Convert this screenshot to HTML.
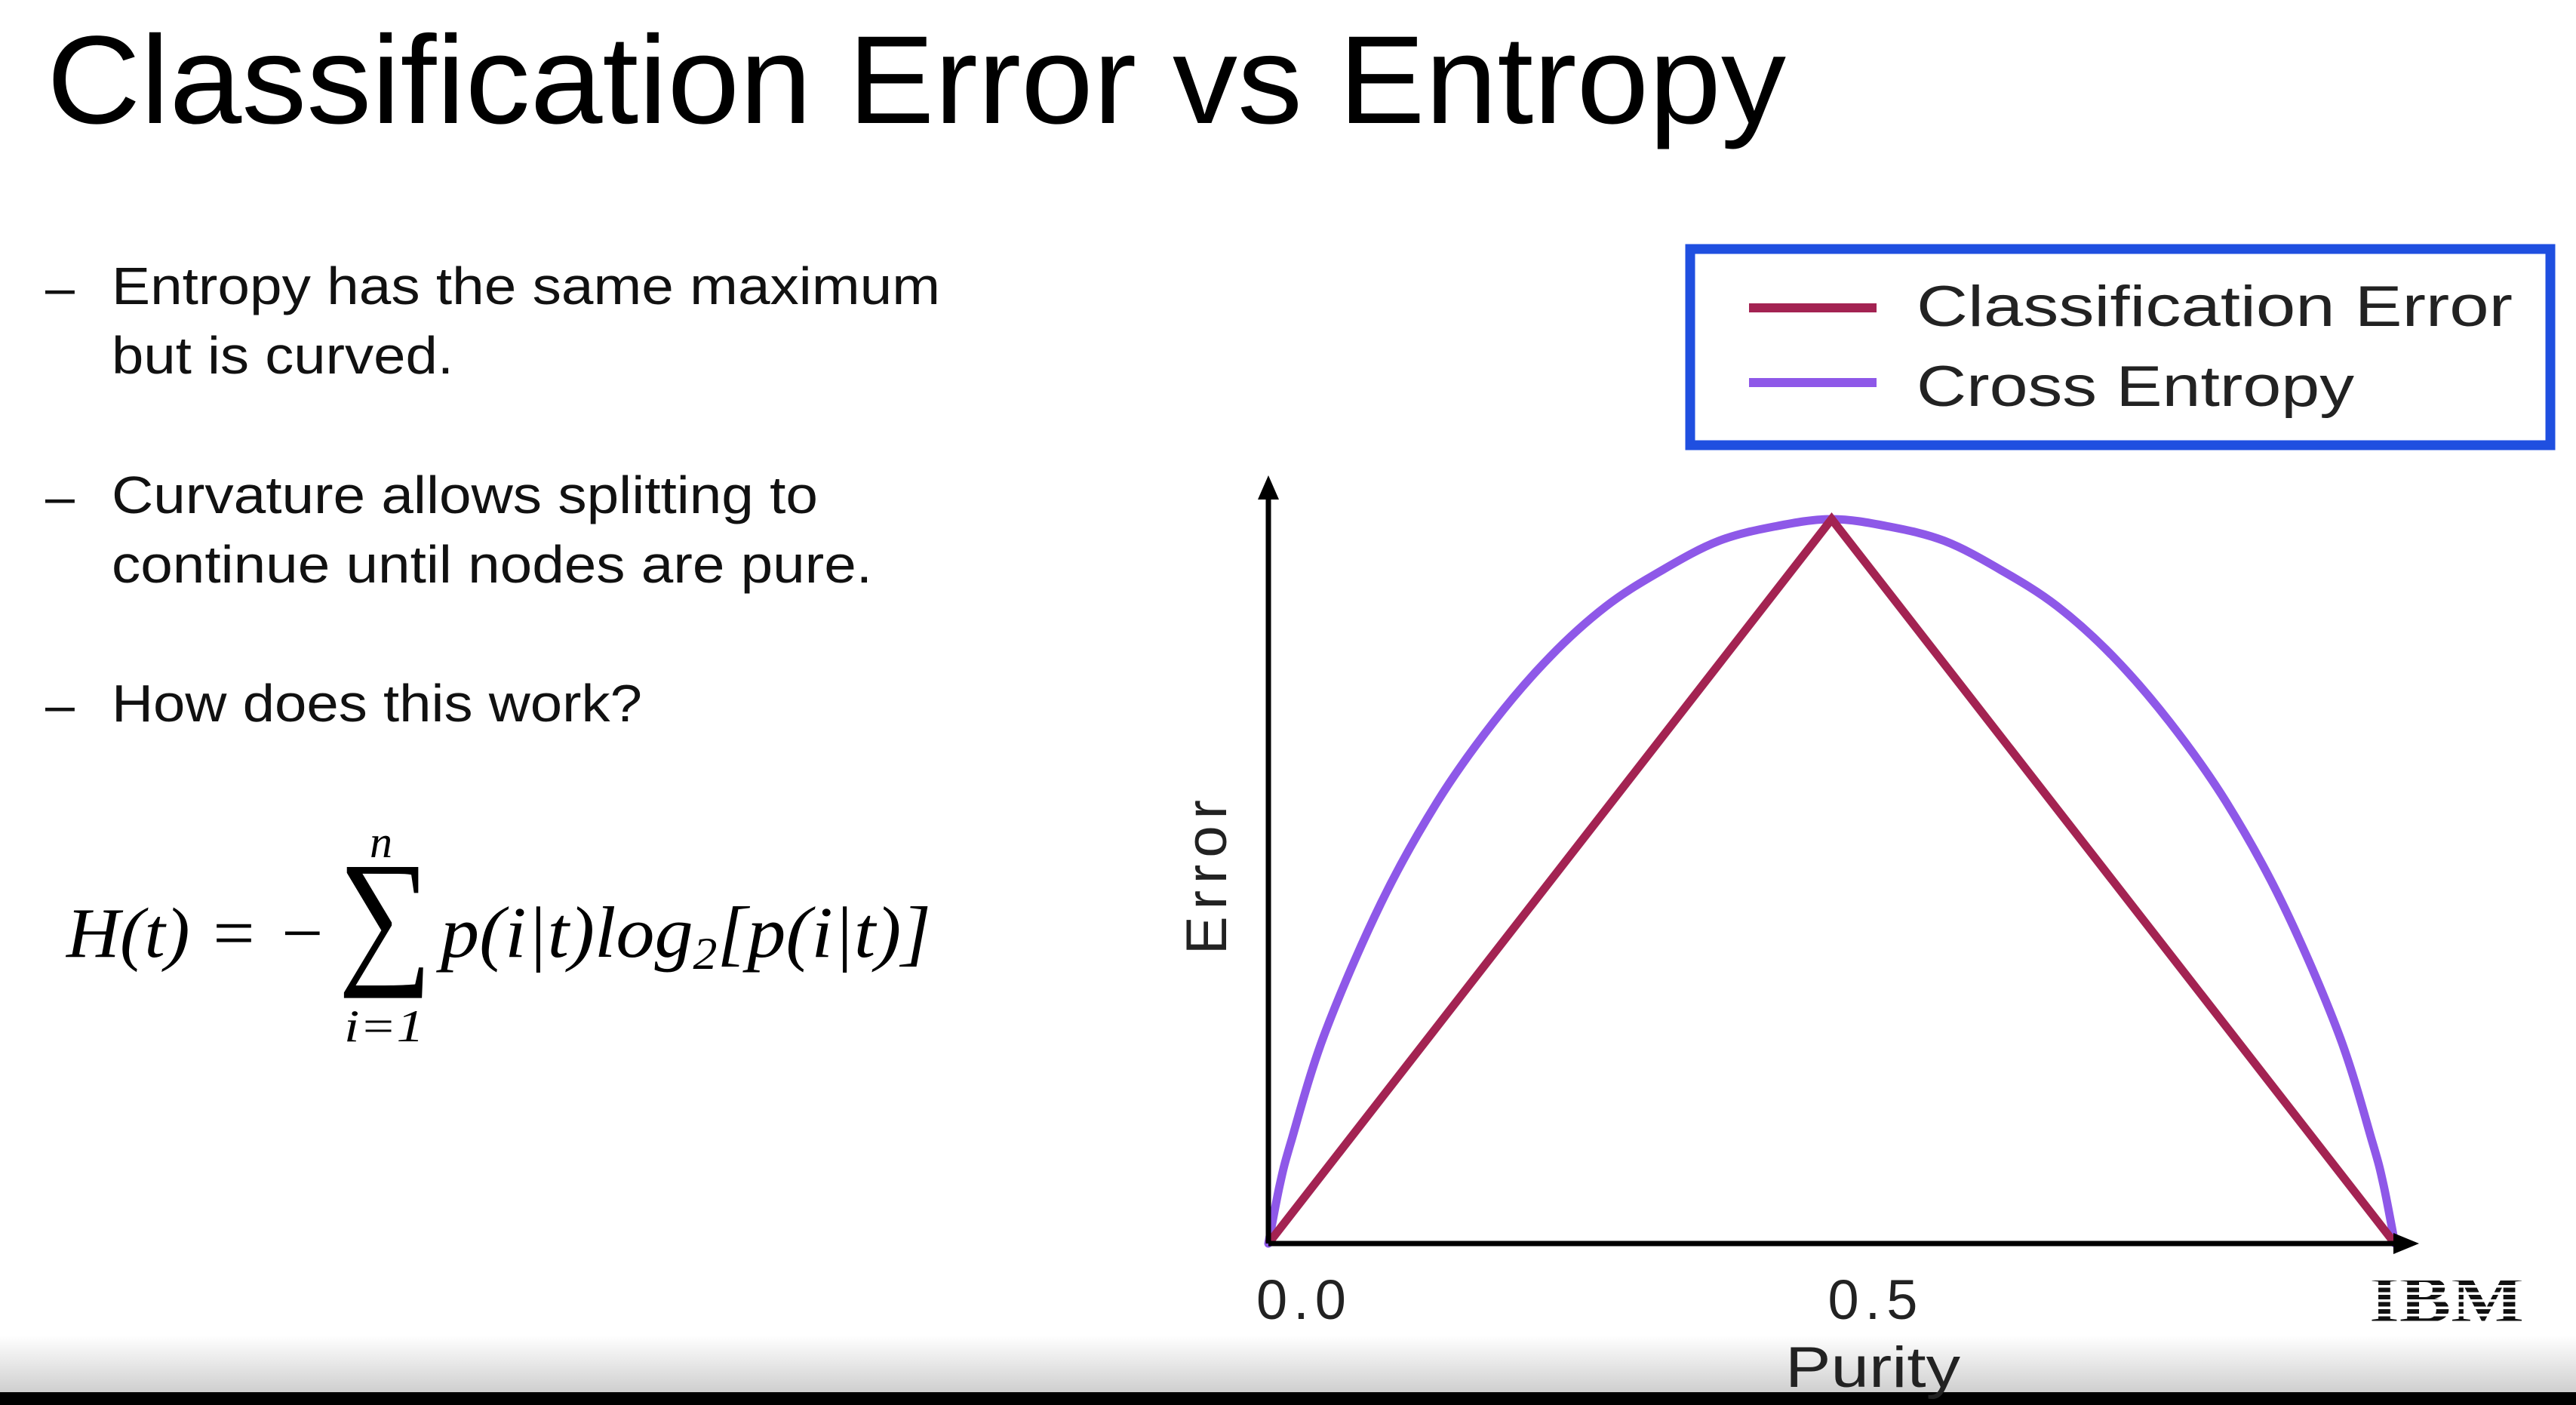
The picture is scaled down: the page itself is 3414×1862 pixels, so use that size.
<!DOCTYPE html>
<html><head><meta charset="utf-8"><style>
html,body{margin:0;padding:0;background:#fff;width:3414px;height:1862px;overflow:hidden}
svg{display:block}
.sans{font-family:"Liberation Sans",sans-serif}
.serif{font-family:"Liberation Serif",serif}
</style></head><body>
<svg id="slide" width="3414" height="1862" viewBox="0 0 3414 1862">
<defs>
<linearGradient id="bottomGrad" x1="0" y1="0" x2="0" y2="1">
<stop offset="0" stop-color="#ffffff"/><stop offset="1" stop-color="#cfcfcf"/>
</linearGradient>
</defs>
<text class="sans" x="62" y="163" font-size="166" fill="#000" textLength="2305" lengthAdjust="spacingAndGlyphs">Classification Error vs Entropy</text>

<g class="sans" font-size="70" fill="#111">
<text x="60" y="405">–</text>
<text x="148" y="403" textLength="1098" lengthAdjust="spacingAndGlyphs">Entropy has the same maximum</text>
<text x="148" y="495" textLength="453" lengthAdjust="spacingAndGlyphs">but is curved.</text>
<text x="60" y="682">–</text>
<text x="148" y="680" textLength="936" lengthAdjust="spacingAndGlyphs">Curvature allows splitting to</text>
<text x="148" y="772" textLength="1008" lengthAdjust="spacingAndGlyphs">continue until nodes are pure.</text>
<text x="60" y="958">–</text>
<text x="148" y="956" textLength="703" lengthAdjust="spacingAndGlyphs">How does this work?</text>
</g>

<g class="serif" fill="#000">
<text x="88" y="1268" font-size="94" font-style="italic" textLength="345" lengthAdjust="spacingAndGlyphs">H(t) = −</text>
<text x="448" y="1280" font-size="200" textLength="125" lengthAdjust="spacingAndGlyphs">∑</text>
<text x="490" y="1136" font-size="60" font-style="italic">n</text>
<text x="456" y="1380" font-size="60" font-style="italic" textLength="106" lengthAdjust="spacingAndGlyphs">i=1</text>
<text x="584" y="1268" font-size="96" font-style="italic" textLength="650" lengthAdjust="spacingAndGlyphs">p(i|t)log<tspan font-size="60" dy="16">2</tspan><tspan dy="-16">[p(i|t)]</tspan></text>
</g>

<g class="sans">
<rect x="2240" y="330" width="1140" height="260" fill="#fff" stroke="#1f4fe0" stroke-width="13"/>
<line x1="2318" y1="408" x2="2487" y2="408" stroke="#a32352" stroke-width="12"/>
<text x="2540" y="432" font-size="76" fill="#222" textLength="790" lengthAdjust="spacingAndGlyphs">Classification Error</text>
<line x1="2318" y1="507" x2="2487" y2="507" stroke="#8e58e8" stroke-width="12"/>
<text x="2540" y="538" font-size="76" fill="#222" textLength="580" lengthAdjust="spacingAndGlyphs">Cross Entropy</text>
</g>

<g id="chart" class="sans"></g>

<rect x="0" y="1770" width="3414" height="75" fill="url(#bottomGrad)"/>
<rect x="0" y="1845" width="3414" height="17" fill="#000"/>
<text class="sans" x="2366" y="1838" font-size="76" fill="#222" textLength="232" lengthAdjust="spacingAndGlyphs">Purity</text>
</svg>
<script>
const xTicks = [0, 0.5, 1];
const xTickLabels = ["0.0", "0.5", "1.0"];
const purity = [0, 0.01, 0.02, 0.05, 0.1, 0.15, 0.2, 0.25, 0.3, 0.35, 0.4, 0.45, 0.5, 0.55, 0.6, 0.65, 0.7, 0.75, 0.8, 0.85, 0.9, 0.95, 0.98, 0.99, 1];
const entropy = [0, 0.08, 0.14, 0.29, 0.47, 0.61, 0.72, 0.81, 0.88, 0.93, 0.97, 0.99, 1.0, 0.99, 0.97, 0.93, 0.88, 0.81, 0.72, 0.61, 0.47, 0.29, 0.14, 0.08, 0];
const errPurity = [0, 0.5, 1];
const classError = [0, 1, 0];

const NS = "http://www.w3.org/2000/svg";
const X0 = 1681, X1 = 3174, Y0 = 1648, YT = 688;
const sx = v => X0 + v * (X1 - X0);
const sy = v => Y0 - v * (Y0 - YT);
const chart = document.getElementById('chart');
function mk(tag, attrs) { const e = document.createElementNS(NS, tag); for (const k in attrs) e.setAttribute(k, attrs[k]); chart.appendChild(e); return e; }

const pts = purity.map((p, i) => [sx(p), sy(entropy[i])]);
let d = 'M' + pts[0][0] + ',' + pts[0][1];
for (let i = 0; i < pts.length - 1; i++) {
  const p0 = pts[Math.max(0, i - 1)], p1 = pts[i], p2 = pts[i + 1], p3 = pts[Math.min(pts.length - 1, i + 2)];
  const c1 = [p1[0] + (p2[0] - p0[0]) / 6, p1[1] + (p2[1] - p0[1]) / 6];
  const c2 = [p2[0] - (p3[0] - p1[0]) / 6, p2[1] - (p3[1] - p1[1]) / 6];
  d += ` C${c1[0].toFixed(1)},${c1[1].toFixed(1)} ${c2[0].toFixed(1)},${c2[1].toFixed(1)} ${p2[0].toFixed(1)},${p2[1].toFixed(1)}`;
}
const ent = mk('path', { d: d, fill: 'none', stroke: '#8e58e8', 'stroke-width': 11, 'stroke-linejoin': 'round', 'stroke-linecap': 'round' });



d = errPurity.map((p, i) => (i ? 'L' : 'M') + sx(p).toFixed(1) + ',' + sy(classError[i]).toFixed(1)).join(' ');
const ce = mk('path', { d: d, fill: 'none', stroke: '#a32352', 'stroke-width': 11, 'stroke-linejoin': 'miter' });



const ya = mk('line', { x1: X0, y1: Y0, x2: X0, y2: 650, stroke: '#000', 'stroke-width': 7 });


const yar = mk('polygon', { points: `${X0 - 14},662 ${X0},630 ${X0 + 14},662`, fill: '#000' });


const xa = mk('line', { x1: X0, y1: Y0, x2: 3185, y2: Y0, stroke: '#000', 'stroke-width': 7 });


const xar = mk('polygon', { points: `3172,${Y0 - 14} 3206,${Y0} 3172,${Y0 + 14}`, fill: '#000' });



xTicks.forEach((t, i) => {
  const tx = mk('text', { x: sx(t) - 16 + t * 22, y: 1748, 'font-size': 74, fill: '#222', 'letter-spacing': 8 });
  tx.textContent = xTickLabels[i];
  
  
});

const yt = mk('text', { x: 0, y: 0, 'font-size': 76, fill: '#222', 'text-anchor': 'middle', 'letter-spacing': 9, transform: 'translate(1625,1158) rotate(-90)' });
yt.textContent = 'Error';



const logoBg = mk('rect', { x: 3140, y: 1678, width: 205, height: 78, fill: '#fff' });


const logo = mk('text', { x: 3140, y: 1752, 'font-size': 88, 'font-weight': 'bold', fill: '#111', style: 'font-family:"Liberation Serif",serif', textLength: 205, lengthAdjust: 'spacingAndGlyphs' });
logo.textContent = 'IBM';


for (let k = 0; k < 8; k++) {
  const s = mk('rect', { x: 3140, y: 1684 + k * 9.5, width: 205, height: 3.5, fill: '#fff' });
  
  
}
</script>
</body></html>
